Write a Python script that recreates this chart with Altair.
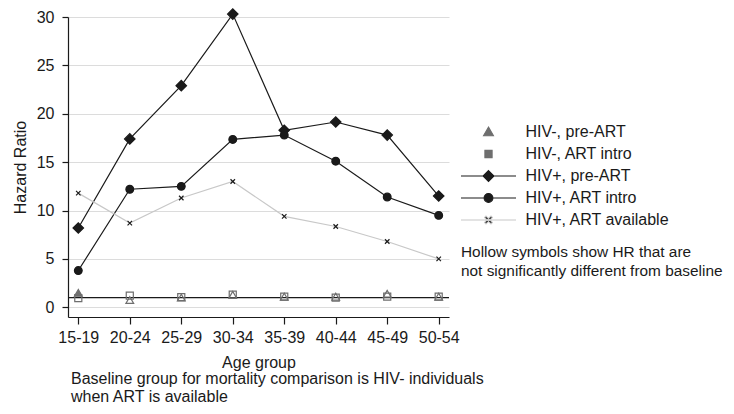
import altair as alt
import pandas as pd

ages = ["15-19", "20-24", "25-29", "30-34", "35-39", "40-44", "45-49", "50-54"]
series_names = ["HIV-, pre-ART", "HIV-, ART intro", "HIV+, pre-ART", "HIV+, ART intro", "HIV+, ART available"]

hiv_neg_pre = [1.5, 0.75, 1.0, 1.3, 1.1, 1.1, 1.4, 1.1]
hiv_neg_pre_sig = [True, False, False, False, False, False, False, False]
hiv_neg_intro = [0.95, 1.2, 1.05, 1.3, 1.1, 1.0, 1.1, 1.1]
hiv_neg_intro_sig = [False, False, False, False, False, False, False, False]
hiv_pos_pre = [8.2, 17.4, 22.9, 30.3, 18.3, 19.15, 17.8, 11.5]
hiv_pos_intro = [3.8, 12.2, 12.5, 17.35, 17.8, 15.1, 11.4, 9.5]
hiv_pos_avail = [11.8, 8.7, 11.3, 13.0, 9.4, 8.35, 6.8, 5.0]
all_sig = [True] * 8

series_values = [hiv_neg_pre, hiv_neg_intro, hiv_pos_pre, hiv_pos_intro, hiv_pos_avail]
series_sig = [hiv_neg_pre_sig, hiv_neg_intro_sig, all_sig, all_sig, all_sig]

baseline = [1.0]

legend_title = ["Hollow symbols show HR that are", "not significantly different from baseline"]
caption = ["Baseline group for mortality comparison is HIV- individuals", "when ART is available"]

# styles
GRAY = "#6e6e6e"
BLACK = "#1a1a1a"
LIGHT = "#c8c8c8"
XPATH = "M-1,-1L1,1M-1,1L1,-1"
marker_shape = {"HIV-, pre-ART": "triangle-up", "HIV-, ART intro": "square",
                "HIV+, pre-ART": "diamond", "HIV+, ART intro": "circle",
                "HIV+, ART available": XPATH}
marker_color = {"HIV-, pre-ART": GRAY, "HIV-, ART intro": GRAY,
                "HIV+, pre-ART": BLACK, "HIV+, ART intro": BLACK,
                "HIV+, ART available": BLACK}
marker_size = {"HIV-, pre-ART": 60, "HIV-, ART intro": 50,
               "HIV+, pre-ART": 110, "HIV+, ART intro": 60,
               "HIV+, ART available": 20}
line_color = {"HIV+, pre-ART": BLACK, "HIV+, ART intro": BLACK, "HIV+, ART available": LIGHT}

rows = []
for name, vals, sigs in zip(series_names, series_values, series_sig):
    for a, v, s in zip(ages, vals, sigs):
        filled = s and name != "HIV+, ART available"
        rows.append(dict(age=a, hr=v, series=name,
                         shape=marker_shape[name],
                         stroke=marker_color[name],
                         fill=marker_color[name] if filled else "transparent",
                         size=marker_size[name],
                         lcolor=line_color.get(name, "none")))
df = pd.DataFrame(rows)

x_enc = alt.X("age:N", sort=ages, scale=alt.Scale(type="point", padding=0.2),
              axis=alt.Axis(title="Age group", labelAngle=0, tickSize=7, labelPadding=5,
                            titlePadding=9, grid=False))
y_enc = alt.Y("hr:Q", scale=alt.Scale(domain=[-1, 30], nice=False, zero=False),
              axis=alt.Axis(title="Hazard Ratio", values=[0, 5, 10, 15, 20, 25, 30],
                            tickSize=6, labelPadding=8, titlePadding=8, grid=True))

base = alt.Chart(df)

rule = alt.Chart(pd.DataFrame({"b": baseline})).mark_rule(color=BLACK, strokeWidth=1.2).encode(
    y=alt.Y("b:Q"))

lines = base.transform_filter(alt.datum.lcolor != "none").mark_line(strokeWidth=1.2).encode(
    x=x_enc, y=y_enc, detail="series:N",
    stroke=alt.Stroke("lcolor:N", scale=None))

points = base.mark_point(strokeWidth=1.2, opacity=1).encode(
    x=x_enc, y=y_enc,
    shape=alt.Shape("shape:N", scale=None),
    stroke=alt.Stroke("stroke:N", scale=None),
    fill=alt.Fill("fill:N", scale=None),
    size=alt.Size("size:Q", scale=None))

# legend symbols (line + marker) as custom paths; unit = sqrt(256)/2 = 8 px
L = 3.44   # half line length (units)
a = 0.40   # half size of x
d = 0.09
xpoly = (f"M{-a+d},{-a-d}L{a+d},{a-d}L{a-d},{a+d}L{-a-d},{-a+d}Z"
         f"M{-a+d},{a+d}L{a+d},{-a+d}L{a-d},{-a-d}L{-a-d},{a-d}Z")
legend_paths = [
    "M0,-0.62L0.62,0.46L-0.62,0.46Z",
    "M-0.45,-0.45H0.45V0.45H-0.45Z",
    f"M-{L},0H{L}M0,-0.68L0.68,0L0,0.68L-0.68,0Z",
    f"M-{L},0H{L}M-0.55,0A0.55,0.55,0,1,0,0.55,0A0.55,0.55,0,1,0,-0.55,0Z",
    f"M-{L},0H{L}" + xpoly,
]
legend_fills = [GRAY, GRAY, BLACK, BLACK, BLACK]
legend_strokes = [GRAY, GRAY, BLACK, BLACK, LIGHT]

leg = alt.Legend(orient="none", legendX=393, legendY=106, title=legend_title,
                 titleOrient="bottom", titleAnchor="start", titleFontWeight="normal",
                 titleFontSize=15.4, titleLimit=400, titleLineHeight=19, titlePadding=17,
                 titleColor=BLACK, labelFontSize=16, labelColor=BLACK, labelOffset=28,
                 labelLimit=400, rowPadding=5, symbolSize=256, symbolStrokeWidth=1.1,
                 symbolOffset=18.5, padding=0, symbolOpacity=1)

legend_layer = base.transform_filter("false").mark_point().encode(
    x=x_enc, y=y_enc,
    shape=alt.Shape("series:N", scale=alt.Scale(domain=series_names, range=legend_paths), legend=leg),
    fill=alt.Fill("series:N", scale=alt.Scale(domain=series_names, range=legend_fills), legend=leg),
    stroke=alt.Stroke("series:N", scale=alt.Scale(domain=series_names, range=legend_strokes), legend=leg),
)

chart = alt.layer(rule, lines, points, legend_layer).properties(
    width=381, height=300,
    autosize=alt.AutoSizeParams(type="none"),
    padding={"left": 60, "top": 9, "right": 277, "bottom": 89},
    title=alt.TitleParams(text=caption, orient="bottom", anchor="start", frame="group",
                          fontSize=16, fontWeight="normal", color=BLACK, lineHeight=18,
                          offset=1, dx=3),
).configure(font="Liberation Sans").configure_view(stroke=None).configure_axis(
    domainColor=BLACK, tickColor=BLACK, labelColor=BLACK, titleColor=BLACK,
    labelFontSize=16, titleFontSize=16, titleFontWeight="normal",
    gridColor="#dcdcdc", domainWidth=1.2, tickWidth=1.2, labelFont="Liberation Sans",
    titleFont="Liberation Sans")

chart.save("out.html", embed_options={"renderer": "svg", "actions": False})
